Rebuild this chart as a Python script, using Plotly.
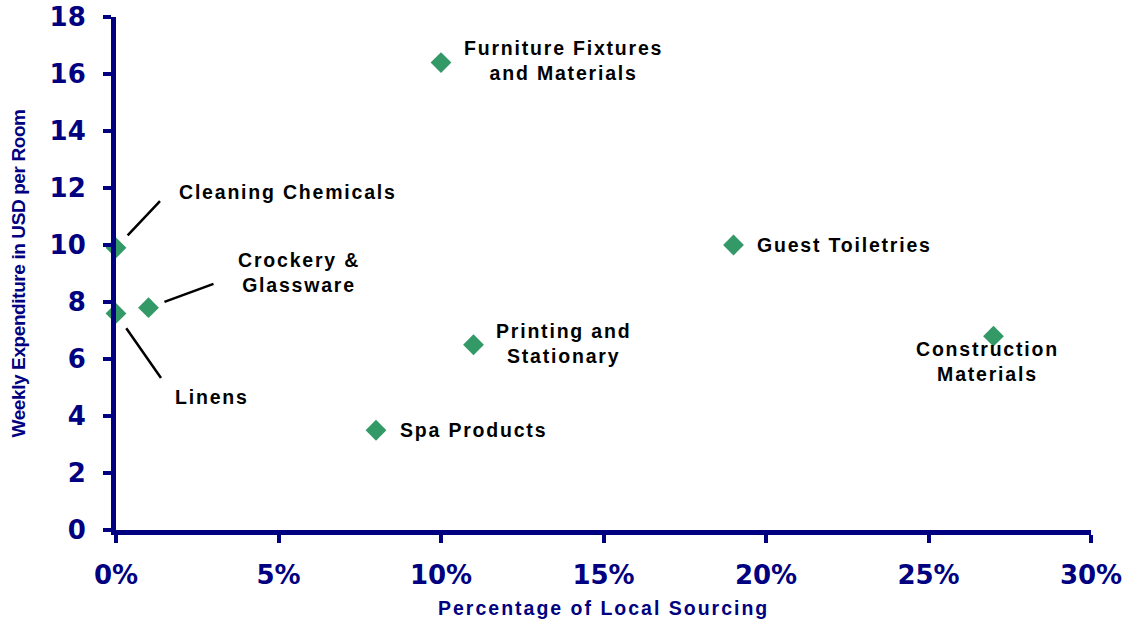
import plotly.graph_objects as go

# Procurement categories and their figures
categories = [
    "Furniture Fixtures<br>and Materials",
    "Cleaning Chemicals",
    "Crockery &<br>Glassware",
    "Linens",
    "Guest Toiletries",
    "Printing and<br>Stationary",
    "Construction<br>Materials",
    "Spa Products",
]
local_share = [0.10, 0.00, 0.01, 0.00, 0.19, 0.11, 0.27, 0.08]
weekly_usd = [16.4, 9.9, 7.8, 7.6, 10.0, 6.5, 6.8, 3.5]

x_ticks = [0, 0.05, 0.10, 0.15, 0.20, 0.25, 0.30]
y_ticks = [0, 2, 4, 6, 8, 10, 12, 14, 16, 18]

NAVY = "#000080"
GREEN = "#339966"
ARIAL = "Liberation Sans, Arial, sans-serif"


def spaced(text, px):
    """Bold text with extra tracking between letters."""
    return f'<b><span style="letter-spacing:{px}px">{text}</span></b>'


# label placement (pixel offsets from each point) and leader lines
label_shift = [(122, 2), (172, 56), (150, 35), (96, -84), (111, 0), (90, 1), (-6, -25), (97, 0)]
leaders = {1: (47, -50, 17), 2: (68, -25, 17), 3: (48, 69, 18)}

fig = go.Figure()
fig.add_trace(go.Scatter(
    x=local_share, y=weekly_usd, mode="markers",
    marker=dict(symbol="diamond", size=16, color=GREEN, line=dict(width=0)),
    cliponaxis=False, hoverinfo="skip", showlegend=False,
))

annotations = []
for i, name in enumerate(categories):
    dx, dy = label_shift[i]
    lines = name.split("<br>")
    annotations.append(dict(
        x=local_share[i], y=weekly_usd[i], xref="x", yref="y",
        text="<br>".join(spaced(t, 1.8) for t in lines), showarrow=False,
        xshift=dx, yshift=dy, xanchor="center", yanchor="middle", align="center",
        font=dict(family=ARIAL, size=19.5, color="black"),
    ))
    if i in leaders:
        ax, ay, gap = leaders[i]
        annotations.append(dict(
            x=local_share[i], y=weekly_usd[i], xref="x", yref="y",
            text=" ", showarrow=True, arrowhead=0, arrowwidth=2.5,
            arrowcolor="black", ax=ax, ay=ay, standoff=gap,
        ))

annotations.append(dict(
    x=0.5, y=-0.152, xref="paper", yref="paper", showarrow=False,
    text=spaced("Percentage of Local Sourcing", 2), xanchor="center", yanchor="middle",
    font=dict(family=ARIAL, size=19.5, color=NAVY),
))
annotations.append(dict(
    x=-0.1005, y=0.5, xref="paper", yref="paper", showarrow=False,
    text='<b><span style="letter-spacing:-0.4px">Weekly Expenditure in USD per Room</span></b>',
    textangle=-90, xanchor="center", yanchor="middle",
    font=dict(family=ARIAL, size=19, color=NAVY),
))

axis_common = dict(
    showgrid=False, zeroline=False, showline=True, linecolor=NAVY, linewidth=5,
    ticks="outside", tickcolor=NAVY, tickwidth=4, ticklen=8,
    tickfont=dict(family="DejaVu Sans", size=26, color=NAVY, weight="bold"),
    mirror=False, fixedrange=True, automargin=False,
)

fig.update_layout(
    width=1126, height=622,
    margin=dict(l=116, r=35, t=17, b=92),
    paper_bgcolor="white", plot_bgcolor="white",
    xaxis=dict(range=[0, 0.30], tickvals=x_ticks, tickformat=".0%",
               ticklabelstandoff=10, **axis_common),
    yaxis=dict(range=[0, 18], tickvals=y_ticks, ticklabelstandoff=12, **axis_common),
    annotations=annotations,
)

fig.write_html("out.html")
